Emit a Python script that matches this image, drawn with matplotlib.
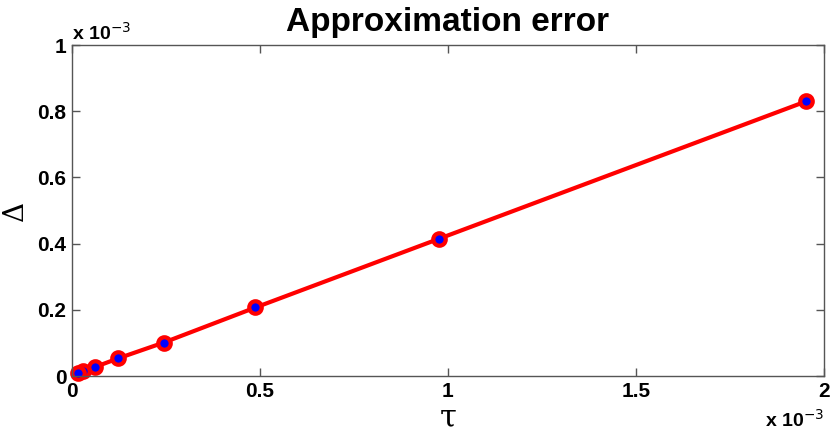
import matplotlib
matplotlib.use("Agg")
import matplotlib.pyplot as plt
from matplotlib.ticker import FuncFormatter

# step sizes and the measured error
tau = [1.953e-3, 0.977e-3, 0.488e-3, 0.244e-3, 0.122e-3, 0.061e-3, 0.0305e-3, 0.0153e-3]
delta = [0.830e-3, 0.415e-3, 0.207e-3, 0.101e-3, 0.053e-3, 0.027e-3, 0.014e-3, 0.008e-3]

xticks = [0, 0.5e-3, 1e-3, 1.5e-3, 2e-3]
yticks = [0, 0.2e-3, 0.4e-3, 0.6e-3, 0.8e-3, 1e-3]

plt.rcParams['font.family'] = ['Liberation Sans', 'DejaVu Sans']

fig = plt.figure(figsize=(8.31, 4.34), dpi=100)
ax = fig.add_axes([0.0866, 0.1336, 0.905, 0.7627])

ax.plot(tau, delta, '-', color='red', linewidth=3, marker='o', markersize=9,
        markeredgewidth=3, markeredgecolor='red', markerfacecolor='blue', clip_on=False)

ax.set_xlim(0, 2e-3)
ax.set_ylim(0, 1e-3)
ax.set_xticks(xticks)
ax.set_yticks(yticks)
fmt = FuncFormatter(lambda v, p: '%g' % round(v * 1e3, 3))
ax.xaxis.set_major_formatter(fmt)
ax.yaxis.set_major_formatter(fmt)
ax.tick_params(direction='in', top=True, right=True, length=6, width=1,
               color='#555555', labelsize=15, pad=4)
for lab in ax.get_xticklabels() + ax.get_yticklabels():
    lab.set_fontweight('bold')
for s in ax.spines.values():
    s.set_color('#555555')
    s.set_linewidth(1)

ax.text(0.0, 1.003, r'x 10$^{-3}$', transform=ax.transAxes, fontsize=14,
        fontweight='bold', ha='left', va='bottom')
ax.text(1.0, -0.1, r'x 10$^{-3}$', transform=ax.transAxes, fontsize=14,
        fontweight='bold', ha='right', va='top')

ax.set_title('Approximation error', fontsize=24, fontweight='bold', pad=10)
ax.set_xlabel('τ', fontsize=22, family='DejaVu Serif', labelpad=1)
ax.set_ylabel('Δ', fontsize=20, family='DejaVu Serif', labelpad=6)

fig.savefig('out.png', dpi=100)
